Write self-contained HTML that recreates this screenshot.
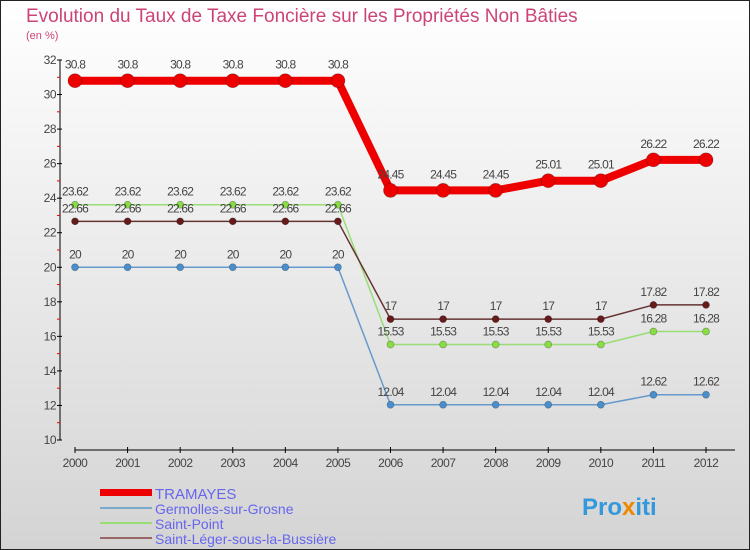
<!DOCTYPE html>
<html><head><meta charset="utf-8"><style>
body{margin:0;width:750px;height:550px;overflow:hidden;font-family:"Liberation Sans",sans-serif}
svg{display:block}
</style></head><body>
<svg id="c" width="750" height="550">
<defs><linearGradient id="bg" x1="0" y1="0" x2="0" y2="1"><stop offset="0" stop-color="#ffffff"/><stop offset="1" stop-color="#d4d4d4"/></linearGradient></defs>
<rect x="0.5" y="0.5" width="749" height="549" fill="url(#bg)" stroke="#222"/>
<text x="26" y="22" font-size="19" fill="#cc4477">Evolution du Taux de Taxe Foncière sur les Propriétés Non Bâties</text>
<text x="26" y="39" font-size="11" fill="#cc4477">(en %)</text>
<g id="axes"></g><g id="series"></g>
<g>
<rect x="100" y="489" width="52" height="7" fill="#e00"/>
<text x="155" y="499" font-size="15" fill="#6666ee">TRAMAYES</text>
<line x1="100" y1="508" x2="152" y2="508" stroke="#7aaacc" stroke-width="2"/>
<text x="155" y="514" font-size="14" fill="#6666ee">Germolles-sur-Grosne</text>
<line x1="100" y1="523" x2="152" y2="523" stroke="#99dd77" stroke-width="2"/>
<text x="155" y="529" font-size="14" fill="#6666ee">Saint-Point</text>
<line x1="100" y1="538" x2="152" y2="538" stroke="#996666" stroke-width="2"/>
<text x="155" y="544" font-size="14" fill="#6666ee">Saint-Léger-sous-la-Bussière</text>
</g>
<text x="582" y="515" font-size="24" font-weight="bold" fill="#3399dd">Pro<tspan fill="#ee8800">x</tspan>iti</text>
</svg>
<script>
const years=[2000,2001,2002,2003,2004,2005,2006,2007,2008,2009,2010,2011,2012];
const yTicks=[10,12,14,16,18,20,22,24,26,28,30,32];
const tramayes=[30.8,30.8,30.8,30.8,30.8,30.8,24.45,24.45,24.45,25.01,25.01,26.22,26.22];
const germolles=[20,20,20,20,20,20,12.04,12.04,12.04,12.04,12.04,12.62,12.62];
const saintPoint=[23.62,23.62,23.62,23.62,23.62,23.62,15.53,15.53,15.53,15.53,15.53,16.28,16.28];
const saintLeger=[22.66,22.66,22.66,22.66,22.66,22.66,17,17,17,17,17,17.82,17.82];
const NS="http://www.w3.org/2000/svg";
const X=i=>75+i*(706-75)/(years.length-1);
const Y=v=>440-(v-10)*380/22;
function mk(p,t,a){const e=document.createElementNS(NS,t);for(const k in a)e.setAttribute(k,a[k]);p.appendChild(e);return e;}
const ax=document.getElementById('axes');
let l=mk(ax,'line',{x1:60,y1:Y(32),x2:60,y2:Y(10),stroke:'#000'});

l=mk(ax,'line',{x1:75,y1:450,x2:735,y2:450,stroke:'#000'});

const yMax=yTicks[yTicks.length-1];
yTicks.forEach(v=>{mk(ax,'line',{x1:57,y1:Y(v),x2:62,y2:Y(v),stroke:'#000'});
 if(v<yMax)mk(ax,'line',{x1:57,y1:Y(v+1),x2:60,y2:Y(v+1),stroke:'#e00'});
 const t=mk(ax,'text',{x:56,y:Y(v)+4,'font-size':12,fill:'#444','text-anchor':'end','letter-spacing':'-0.5'});t.textContent=v;
 });
years.forEach((yr,i)=>{mk(ax,'line',{x1:X(i),y1:447,x2:X(i),y2:453,stroke:'#000'});
 const t=mk(ax,'text',{x:X(i),y:467,'font-size':12,fill:'#444','text-anchor':'middle','letter-spacing':'-0.5'});t.textContent=yr;
 });
const sg=document.getElementById('series');
function series(arr,color,dot,w,r,name,labelDy){
 const g=mk(sg,'g',{});
 const p=mk(g,'polyline',{points:arr.map((v,i)=>X(i)+','+Y(v)).join(' '),fill:'none',stroke:color,'stroke-width':w,'stroke-linejoin':'round'});
 
 arr.forEach((v,i)=>{const c=mk(g,'circle',{cx:X(i),cy:Y(v),r:r,fill:dot,stroke:'rgba(0,0,0,0.3)','stroke-width':0.7});
  
  const t=mk(g,'text',{x:X(i),y:Y(v)+labelDy,'font-size':12,fill:'#444','text-anchor':'middle','letter-spacing':'-0.8'});t.textContent=v;
  });
}
series(germolles,'#6699cc','#4a8fcc',1.5,3.5,'germolles',-9);
series(saintPoint,'#99dd77','#88dd44',1.5,3.5,'saint-point',-9);
series(saintLeger,'#663333','#661a1a',1.5,3.5,'saint-leger',-9);
series(tramayes,'#ee0000','#ee0000',8,7,'tramayes',-12);
</script>
</body></html>
